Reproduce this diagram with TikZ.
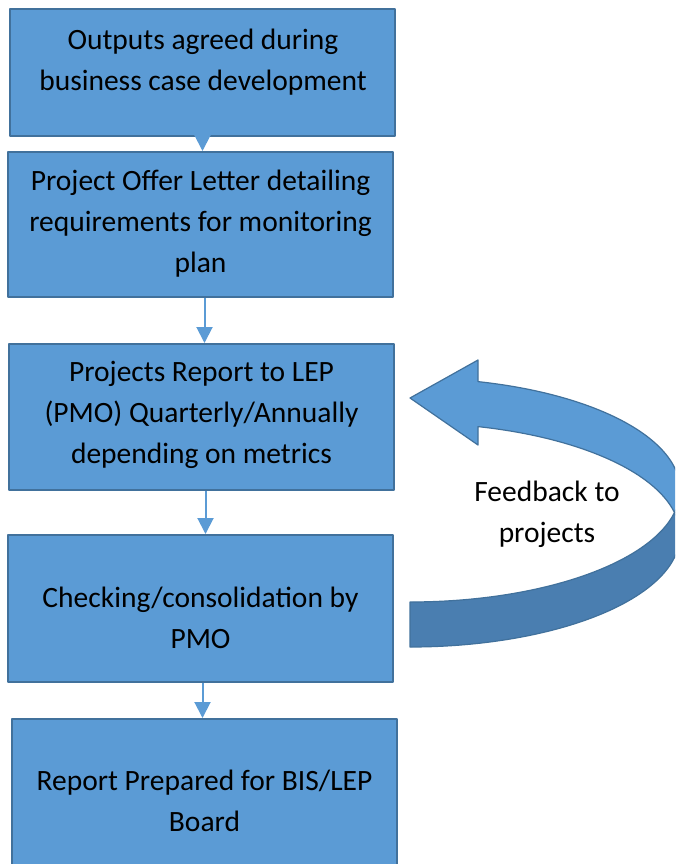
\documentclass[tikz,border=0pt]{standalone}
\usepackage{fontspec}
\setmainfont{Carlito}
\usetikzlibrary{arrows.meta}
\definecolor{boxfill}{HTML}{5B9BD5}
\definecolor{boxline}{HTML}{41719C}
\definecolor{backfill}{HTML}{4A7EB0}
\begin{document}
\begin{tikzpicture}[x=1pt,y=1pt,line join=round,>={Triangle[width=16pt,length=16pt]},
    box/.style={draw=boxline,fill=boxfill,line width=2pt,minimum width=385pt,inner sep=0pt},
    txt/.style={align=center,font=\fontsize{29.5}{41}\selectfont},
    link/.style={->,draw=boxfill,line width=2pt}]
            \useasboundingbox (0,0) rectangle (675,-864);
            \clip (0,0) rectangle (675,-864);
            % boxes of the flow
            \node[box,minimum height=127pt] (outputs) at (202.5,-72.5) {};
            \node[box,minimum height=145pt] (offer) at (200.5,-224.5) {};
            \node[box,minimum height=146pt] (report) at (201.5,-417) {};
            \node[box,minimum height=147pt] (check) at (200.5,-608.5) {};
            \node[box,minimum height=165pt] (board) at (204.5,-801.5) {};
            \node[txt] (outputs-t) at (203,-62) {Outputs agreed during\\business case development};
            \node[txt] (offer-t) at (200.5,-224) {Project Offer Letter detailing\\requirements for monitoring\\plan};
            \node[txt] (report-t) at (201.5,-415) {Projects Report to LEP\\(PMO) Quarterly/Annually\\depending on metrics};
            \node[txt] (check-t) at (200.5,-618) {Checking/consolidation by\\PMO};
            \node[txt] (board-t) at (204.5,-801) {Report Prepared for BIS/LEP\\Board};
            \draw[link] (outputs.south) -- (outputs.south |- offer.north);
            \draw[link] ([xshift=4pt]offer.south) -- ([xshift=4pt]offer.south |- report.north);
            \draw[link] ([xshift=4pt]report.south) -- ([xshift=4pt]report.south |- check.north);
            \draw[link] ([xshift=2pt]check.south) -- ([xshift=2pt]check.south |- board.north);
            % curved feedback arrow
            \filldraw[fill=backfill,draw=boxline,line width=1.2pt] (410,-647)
                arc[start angle=-90,end angle=11.59,x radius=270pt,y radius=112pt]
                arc[start angle=-11.59,end angle=-90,x radius=270pt,y radius=112pt] -- cycle;
            \filldraw[fill=boxfill,draw=boxline,line width=1.2pt] (410,-398) -- (478,-360) -- (478,-381.61)
                arc[start angle=75.41,end angle=-11.59,x radius=270pt,y radius=112pt]
                arc[start angle=11.59,end angle=75.41,x radius=270pt,y radius=112pt]
                -- (478,-445) -- cycle;
            \node[txt] (feedback) at (547,-514) {Feedback to\\projects};
\end{tikzpicture}
\end{document}
